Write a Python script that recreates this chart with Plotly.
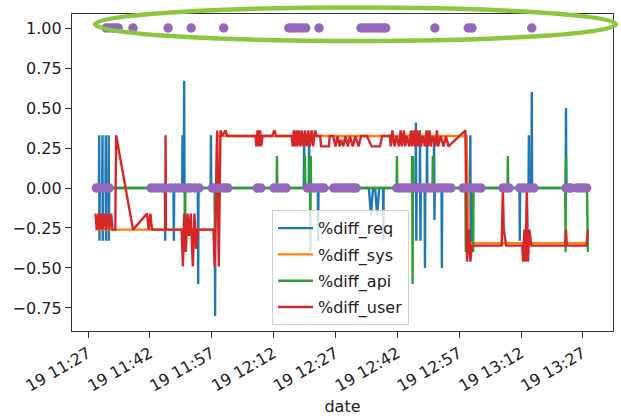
import plotly.graph_objects as go
import pandas as pd

# ---------------- data (minutes after 19 11:27) ----------------
req_t = [1.8,
         2.62, 2.7, 2.75, 2.83, 3.42, 3.5, 3.55, 3.63, 4.22, 4.3, 4.35, 4.43, 4.92, 5.0, 5.05, 5.13,
         18.62, 18.7, 18.78, 20.72, 20.8, 20.88, 22.82, 22.9, 22.98, 23.22, 23.3, 23.38,
         26.62, 26.7, 26.78, 29.72, 29.8, 29.88, 30.72, 30.8, 30.88,
         52.32, 52.4, 52.48, 53.52, 53.6, 53.68, 55.72, 55.8, 55.88,
         68.1, 68.6, 69.1, 69.6, 70.1, 70.6, 71.52, 71.6, 71.68,
         79.42, 79.5, 79.6, 79.68, 80.42, 80.5, 80.6, 80.68, 81.62, 81.7, 81.78, 82.12, 82.2, 82.28,
         83.82, 83.9, 84.0, 84.08, 85.72, 85.8, 85.88, 92.62, 92.7, 92.8, 92.88,
         104.62, 104.7, 104.78, 106.82, 106.9, 106.98, 107.52, 107.6, 107.68,
         115.82, 115.9, 115.98, 121.2]
req_v = [0,
         0, 0.33, -0.33, 0, 0, 0.33, -0.33, 0, 0, 0.33, -0.33, 0, 0, 0.33, -0.33, 0,
         0, -0.33, 0, 0, -0.33, 0, 0, 0.33, 0, 0, 0.67, 0,
         0, -0.6, 0, 0, 0.33, 0, 0, -0.8, 0,
         0, 0.33, 0, 0, 0.33, 0, 0, -0.33, 0,
         0, -0.17, 0, 0, -0.17, 0, 0, -0.33, 0,
         0, 0.41, -0.33, 0, 0, 0.33, -0.33, 0, 0, -0.5, 0, 0, 0.33, 0,
         0, 0.33, -0.2, 0, 0, -0.5, 0, 0, 0.33, -0.4, 0,
         0, -0.33, 0, 0, 0.33, 0, 0, 0.6, 0,
         0, 0.5, 0, 0]

sys_t = [1.8, 30.9, 31.3, 91.8, 92.3, 121.2]
sys_v = [-0.26, -0.26, 0.325, 0.325, -0.345, -0.345]

api_t = [1.8,
         23.42, 23.5, 23.58, 30.72, 30.8, 30.88, 45.72, 45.8, 45.88, 52.52, 52.6, 52.68,
         53.72, 53.8, 53.9, 54.0, 54.08, 74.82, 74.9, 74.98, 78.52, 78.6, 78.7, 78.8, 78.88,
         83.52, 83.6, 83.68, 91.52, 91.6, 91.68, 93.32, 93.4, 93.48, 101.72, 101.8, 101.88,
         115.72, 115.8, 115.9, 115.98, 121.0, 121.2]
api_v = [0,
         0, -0.4, 0, 0, -0.15, 0, 0, 0.2, 0, 0, 0.2, 0,
         0, 0.2, -0.4, 0.2, 0, 0, 0.2, 0, 0, 0.2, -0.6, 0.2, 0,
         0, 0.2, 0, 0, -0.4, 0, 0, -0.4, 0, 0, 0.2, 0,
         0, -0.4, 0.2, 0, 0, -0.4]

user_t = [1.8, 2.1, 2.5, 2.8, 3.2, 3.5, 4.0, 4.3, 4.8, 5.1, 5.6, 5.9, 6.6, 6.8, 10.9, 14.3,
          14.7, 15.1, 15.5, 18.72, 18.8, 18.88, 22.7, 23.0, 23.3, 23.7, 24.1, 24.5, 24.9, 25.4,
          25.8, 26.2, 26.6, 30.4, 30.7, 31.3, 31.7, 32.1, 32.5, 33.3, 33.8, 40.6, 40.8, 41.1,
          41.4, 41.7, 42.0, 42.3, 44.6, 45.2, 45.6, 49.4, 49.6, 49.9, 50.2, 50.5, 50.8, 51.1,
          51.5, 51.8, 52.2, 52.6, 53.0, 53.4, 53.8, 54.2, 54.6, 55.0, 55.5, 56.3, 56.5, 58.4,
          58.6, 59.4, 60.0, 60.5, 61.0, 61.4, 61.9, 62.4, 63.0, 63.5, 64.2, 64.8, 65.6, 66.2,
          67.6, 68.8, 70.8, 71.3, 73.2, 73.4, 73.8, 74.3, 74.8, 75.4, 75.8, 76.1, 76.6, 76.9,
          77.3, 77.9, 78.3, 78.6, 79.0, 79.3, 79.7, 80.0, 80.4, 80.7, 81.2, 81.7, 82.1, 82.4,
          82.8, 83.1, 83.6, 84.2, 84.6, 84.9, 85.5, 86.2, 86.8, 87.4, 91.5, 91.9, 92.3, 92.7,
          93.1, 100.3, 100.6, 100.8, 101.4, 105.3, 105.5, 105.8, 106.1, 106.4, 106.7, 107.0,
          107.5, 115.7, 115.9, 116.1, 120.9, 121.2]
user_v = [-0.16, -0.26, -0.16, -0.26, -0.16, -0.26, -0.16, -0.26, -0.16, -0.26, -0.16, -0.26,
          -0.26, 0.33, -0.26, -0.16, -0.26, -0.16, -0.26, -0.26, 0.33, -0.26, -0.26, -0.49,
          -0.16, -0.40, -0.16, -0.30, -0.16, -0.49, -0.16, -0.38, -0.26, -0.26, -0.49, 0.36,
          -0.49, 0.36, 0.325, 0.36, 0.325, 0.325, 0.26, 0.36, 0.26, 0.36, 0.26, 0.325, 0.325,
          0.36, 0.325, 0.325, 0.26, 0.36, 0.26, 0.36, 0.26, 0.36, 0.26, 0.36, 0.26, 0.36, 0.26,
          0.36, 0.26, 0.36, 0.26, 0.36, 0.325, 0.325, 0.26, 0.26, 0.325, 0.325, 0.26, 0.325,
          0.26, 0.30, 0.26, 0.325, 0.26, 0.325, 0.26, 0.325, 0.26, 0.325, 0.325, 0.26, 0.26,
          0.325, 0.325, 0.26, 0.36, 0.26, 0.325, 0.26, 0.36, 0.26, 0.36, 0.26, 0.325, 0.26,
          0.36, 0.26, 0.36, 0.26, 0.36, 0.26, 0.36, 0.26, 0.325, 0.26, 0.36, 0.26, 0.36, 0.26,
          0.325, 0.26, 0.36, 0.26, 0.325, 0.26, 0.325, 0.26, 0.36, -0.46, -0.26, -0.46, -0.36,
          -0.36, 0.0, -0.26, -0.36, -0.36, -0.46, -0.26, -0.46, 0.0, -0.46, -0.26, -0.36,
          -0.36, -0.26, -0.36, -0.36, -0.26]

flag_t = [2.0, 2.8, 3.6, 4.4, 5.1, 15.3, 16.2, 17.1, 18.0, 18.8, 20.0, 21.0, 22.0, 23.0, 24.0,
          24.8, 25.9, 26.9, 30.1, 30.9, 31.7, 32.4, 33.2, 33.9, 41.0, 41.9, 45.1, 46.0, 47.0,
          48.0, 53.2, 54.0, 54.8, 55.6, 56.5, 57.2, 59.6, 60.4, 61.2, 62.0, 62.8, 63.6, 64.3,
          65.0, 74.9, 75.7, 76.5, 77.3, 78.1, 78.9, 79.7, 80.5, 81.3, 82.1, 82.9, 83.6, 84.7,
          85.5, 86.3, 87.1, 88.0, 90.9, 91.7, 92.6, 93.6, 94.5, 95.3, 100.6, 101.4, 102.1,
          104.7, 105.5, 106.3, 107.1, 108.1, 115.9, 116.5, 117.1, 118.5, 119.3, 120.1, 120.9,
          4.4, 5.2, 6.0, 6.7, 7.3, 10.9, 19.4, 25.0, 32.9, 48.7, 49.5, 50.3, 51.2, 52.0, 52.8,
          56.0, 66.2, 67.0, 67.8, 68.6, 69.4, 70.2, 71.0, 71.7, 72.2, 84.1, 92.2, 93.1, 107.6]
flag_v = [0] * 82 + [1] * 29

series_names = ["%diff_req", "%diff_sys", "%diff_api", "%diff_user"]
y_ticks = [-0.75, -0.5, -0.25, 0.0, 0.25, 0.5, 0.75, 1.0]

BASE = pd.Timestamp("2020-02-19 11:27:00")


def to_time(mins):
    return [BASE + pd.Timedelta(minutes=m) for m in mins]


colors = ["#1f77b4", "#ff7f0e", "#2ca02c", "#d62728"]
FONT = "DejaVu Sans"

fig = go.Figure()
for i, (name, ts, vs) in enumerate(zip(series_names,
                                       [req_t, sys_t, api_t, user_t],
                                       [req_v, sys_v, api_v, user_v])):
    fig.add_trace(go.Scatter(x=to_time(ts), y=vs, mode="lines", name=name,
                             legendgroup=name,
                             line=dict(color=colors[i], width=2.4)))

fig.add_trace(go.Scatter(x=to_time(flag_t), y=flag_v, mode="markers", showlegend=False,
                         marker=dict(color="#9467bd", size=9.5, line=dict(width=0))))

# annotation ellipse drawn around the top dots
fig.add_shape(type="circle", xref="paper", yref="paper",
              x0=0.0425, x1=1.0055, y0=0.9148, y1=1.0205,
              line=dict(color="rgb(141,198,63)", width=4.5), layer="above")

fig.update_layout(
    width=621, height=416,
    margin=dict(l=72, r=8, t=14, b=85),
    paper_bgcolor="white", plot_bgcolor="white",
    font=dict(family=FONT, size=16, color="#222"),
    legend=dict(x=0.3697, y=0.381, xanchor="left", yanchor="top",
                bgcolor="rgba(255,255,255,0.8)", bordercolor="#d0d0d0", borderwidth=1,
                font=dict(family=FONT, size=16, color="#222"),
                tracegroupgap=2.5, itemwidth=35),
    xaxis=dict(
        range=[BASE + pd.Timedelta(minutes=-3.9), BASE + pd.Timedelta(minutes=127.3)],
        tick0=BASE, dtick=15 * 60 * 1000, tickformat="%d %H:%M", tickangle=-30,
        showgrid=False, zeroline=False, showline=True, mirror=True, automargin=False,
        linecolor="#333", linewidth=1.3, ticks="outside", ticklen=6, tickwidth=1.3,
        tickcolor="#333", title=dict(text="date", font=dict(size=16), standoff=12),
    ),
    yaxis=dict(
        range=[-0.8938, 1.0875], tickvals=y_ticks, tickformat=".2f", automargin=False,
        showgrid=False, zeroline=False, showline=True, mirror=True,
        linecolor="#333", linewidth=1.3, ticks="outside", ticklen=6, tickwidth=1.3,
        tickcolor="#333",
    ),
)

fig.write_html("out.html", config={"displayModeBar": False})
